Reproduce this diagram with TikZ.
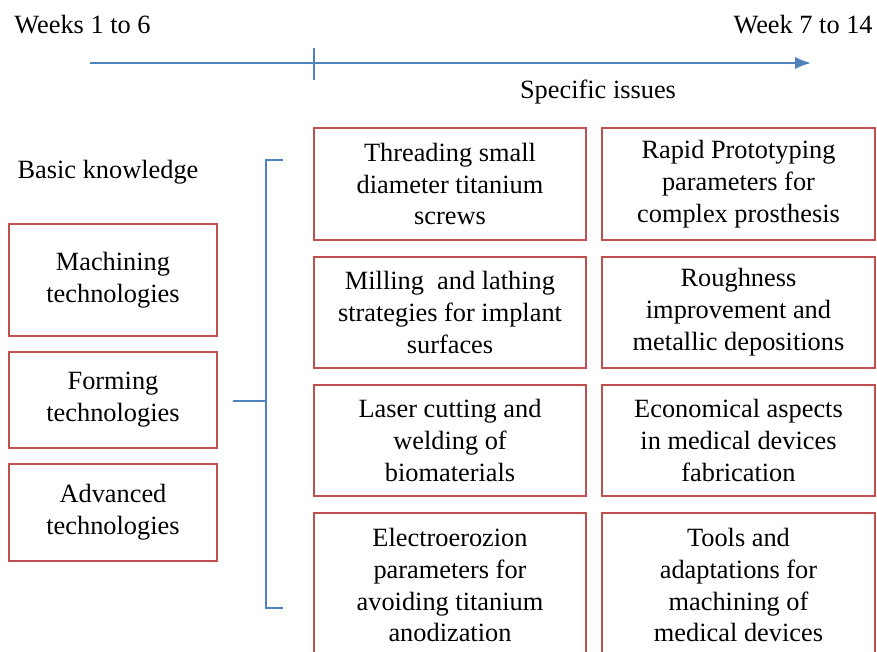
\documentclass[tikz,border=0pt]{standalone}
\usepackage{fontspec}
\setmainfont{Liberation Serif}
\usetikzlibrary{arrows.meta}
\definecolor{boxred}{HTML}{C0504D}
\definecolor{lineblue}{HTML}{4F81BD}
\tikzset{
  box/.style={draw=boxred, line width=1.1pt, inner sep=0pt, align=center,
    font=\fontsize{15}{18.2}\selectfont},
  lbl/.style={inner sep=0pt, font=\fontsize{15}{18.2}\selectfont},
  blueline/.style={draw=lineblue, line width=1.2pt}
}
\begin{document}
\begin{tikzpicture}[x=0.02cm, y=-0.02cm]
\useasboundingbox (0,0) rectangle (877,652);
\clip (0,0) rectangle (877,652);
\fill[white] (0,0) rectangle (877,652);
% timeline
\node[lbl, anchor=west] (w1) at (14,25) {Weeks 1 to 6};
\node[lbl, anchor=east] (w7) at (873,25) {Week 7 to 14};
\coordinate (tlstart) at (90,63);
\coordinate (tlend) at (811,63);
\coordinate (ticktop) at (314,48);
\coordinate (tickbot) at (314,80);
\draw[blueline, -{Latex[length=9pt,width=7pt]}] (tlstart) -- (tlend);
\draw[blueline, line width=0.8pt] (ticktop) -- (tickbot);
\node[lbl] (spec) at (598,92) {Specific issues};
\node[lbl] (basic) at (108,172) {Basic knowledge};
% left boxes
\node[box, minimum width=4.16cm, minimum height=2.24cm] (mach) at (113,280) {Machining\\technologies};
\node[box, minimum width=4.16cm, minimum height=1.92cm] (form) at (113,400) {Forming\\technologies};
\node[box, minimum width=4.16cm, minimum height=1.94cm] (adv) at (113,512.5) {Advanced\\technologies};
% bracket
\coordinate (stub) at (233,401);
\coordinate (bmid) at (266,401);
\coordinate (btop) at (266,160);
\coordinate (bbot) at (266,608);
\coordinate (btopr) at (283,160);
\coordinate (bbotr) at (283,608);
\draw[blueline] (btopr) -- (btop) -- (bbot) -- (bbotr);
\draw[blueline] (stub) -- (bmid);
% right boxes
\node[box, minimum width=5.44cm, minimum height=2.24cm] (thr) at (450,184) {Threading small\\diameter titanium\\screws};
\node[box, minimum width=5.46cm, minimum height=2.24cm] (rap) at (738.5,184) {Rapid Prototyping\\parameters for\\complex prosthesis};
\node[box, minimum width=5.44cm, minimum height=2.22cm] (mil) at (450,312.5) {Milling\ \ and lathing\\strategies for implant\\surfaces};
\node[box, minimum width=5.46cm, minimum height=2.22cm] (rough) at (738.5,312.5) {Roughness\\improvement and\\metallic depositions};
\node[box, minimum width=5.44cm, minimum height=2.22cm] (las) at (450,440.5) {Laser cutting and\\welding of\\biomaterials};
\node[box, minimum width=5.46cm, minimum height=2.22cm] (eco) at (738.5,440.5) {Economical aspects\\in medical devices\\fabrication};
\node[box, minimum width=5.44cm, minimum height=2.88cm] (ele) at (450,585) {Electroerozion\\parameters for\\avoiding titanium\\anodization};
\node[box, minimum width=5.46cm, minimum height=2.88cm] (tool) at (738.5,585) {Tools and\\adaptations for\\machining of\\medical devices};
\end{tikzpicture}
\end{document}
